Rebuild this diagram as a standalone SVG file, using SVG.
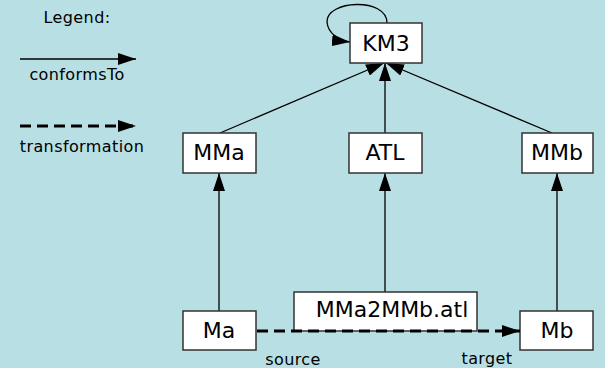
<svg xmlns="http://www.w3.org/2000/svg" width="605" height="368" viewBox="0 0 605 368">
<defs>
<marker id="ah" markerUnits="userSpaceOnUse" markerWidth="18" markerHeight="12" viewBox="0 0 18 12" refX="18" refY="6" orient="auto">
<path d="M0,0 L18,6 L0,12 Z" fill="#000"/>
</marker>
<style>
.box{fill:#fff;stroke:#333;stroke-width:1.5}
.lbl{font-family:"DejaVu Sans","Liberation Sans",sans-serif;font-size:22px;fill:#000;text-anchor:middle}
.sm{font-family:"DejaVu Sans","Liberation Sans",sans-serif;font-size:16px;letter-spacing:0.4px;fill:#000;text-anchor:middle}
.c{fill:none;stroke:#000;stroke-width:1.3;marker-end:url(#ah)}
.d{fill:none;stroke:#000;stroke-width:3;stroke-dasharray:11 6;marker-end:url(#ah)}
</style>
</defs>
<rect x="0" y="0" width="605" height="368" fill="#b8dfe3"/>
<g id="legend">
<text class="sm" x="77" y="23">Legend:</text>
<line class="c" x1="20" y1="59" x2="136" y2="59"/>
<text class="sm" x="77" y="80">conformsTo</text>
<line class="d" x1="20" y1="126" x2="136" y2="126"/>
<text class="sm" x="82" y="152">transformation</text>
</g>
<g id="connectors">
<path class="c" d="M387,23 C387,-3 326,0 327,22 C328,34 340,41 350,42"/>
<line class="c" x1="220" y1="133" x2="384" y2="63"/>
<line class="c" x1="385" y1="133" x2="385" y2="63"/>
<line class="c" x1="552" y1="133" x2="386" y2="63"/>
<line class="c" x1="219" y1="311" x2="219" y2="173"/>
<line class="c" x1="385" y1="292" x2="385" y2="173"/>
<line class="c" x1="557" y1="311" x2="557" y2="173"/>
</g>
<g id="KM3"><rect class="box" x="350" y="23" width="72" height="40"/><text class="lbl" x="386" y="51">KM3</text></g>
<g id="MMa"><rect class="box" x="183" y="133" width="73" height="40"/><text class="lbl" x="219" y="160">MMa</text></g>
<g id="ATL"><rect class="box" x="349" y="133" width="73" height="40"/><text class="lbl" x="385" y="160">ATL</text></g>
<g id="MMb"><rect class="box" x="522" y="133" width="71" height="40"/><text class="lbl" x="557" y="160">MMb</text></g>
<g id="MMa2MMb"><rect class="box" x="294" y="292" width="183" height="39"/><text class="lbl" x="392" y="317">MMa2MMb.atl</text></g>
<g id="Ma"><rect class="box" x="183" y="311" width="73" height="39"/><text class="lbl" x="219" y="338">Ma</text></g>
<g id="Mb"><rect class="box" x="520" y="311" width="73" height="39"/><text class="lbl" x="557" y="338">Mb</text></g>
<g id="transform">
<line class="d" x1="257" y1="331" x2="520" y2="331"/>
<text class="sm" x="293" y="365">source</text>
<text class="sm" x="487" y="364">target</text>
</g>
</svg>
